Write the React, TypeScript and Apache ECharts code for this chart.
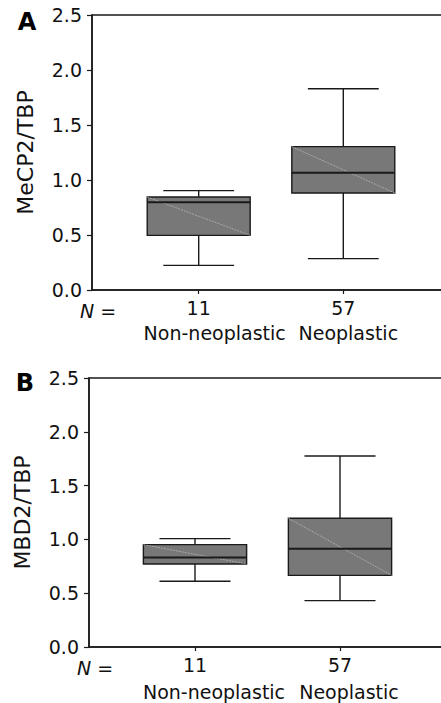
import React, { useEffect, useRef } from "react";
import * as echarts from "echarts";

// ---- data ----
const categories = ["Non-neoplastic", "Neoplastic"];
const nCounts = ["11", "57"];
const xPositions = [1, 2];
// [low whisker, Q1, median, Q3, high whisker]
const mecp2Stats = [
  [0.224, 0.497, 0.797, 0.845, 0.903],
  [0.285, 0.882, 1.066, 1.303, 1.83],
];
const mbd2Stats = [
  [0.611, 0.772, 0.831, 0.951, 1.007],
  [0.431, 0.666, 0.914, 1.196, 1.775],
];
const yMin = 0;
const yMax = 2.5;
const yInterval = 0.5;

const FONT = "DejaVu Sans";
const FS = 19;
const BOX_HALF = 0.356;
const CAP_HALF = 0.245;

function renderBox(params: any, api: any) {
  const x = api.value(0);
  const low = api.value(1);
  const q1 = api.value(2);
  const med = api.value(3);
  const q3 = api.value(4);
  const high = api.value(5);
  const pL = api.coord([x - BOX_HALF, q3]);
  const pR = api.coord([x + BOX_HALF, q1]);
  const pC = api.coord([x, high]);
  const pLow = api.coord([x, low]);
  const pQ1 = api.coord([x, q1]);
  const pQ3 = api.coord([x, q3]);
  const pMed = api.coord([x, med]);
  const capL = api.coord([x - CAP_HALF, high])[0];
  const capR = api.coord([x + CAP_HALF, high])[0];
  const lineStyle = { stroke: "#1a1a1a", lineWidth: 1.4 };
  return {
    type: "group",
    children: [
      { type: "line", shape: { x1: pC[0], y1: pC[1], x2: pQ3[0], y2: pQ3[1] }, style: lineStyle },
      { type: "line", shape: { x1: pQ1[0], y1: pQ1[1], x2: pLow[0], y2: pLow[1] }, style: lineStyle },
      { type: "line", shape: { x1: capL, y1: pC[1], x2: capR, y2: pC[1] }, style: lineStyle },
      { type: "line", shape: { x1: capL, y1: pLow[1], x2: capR, y2: pLow[1] }, style: lineStyle },
      {
        type: "rect",
        shape: { x: pL[0], y: pL[1], width: pR[0] - pL[0], height: pR[1] - pL[1] },
        style: { fill: "#787878", stroke: "#1a1a1a", lineWidth: 1.4 },
      },
      {
        type: "line",
        shape: { x1: pL[0], y1: pL[1], x2: pR[0], y2: pR[1] },
        style: { stroke: "#b4b4b4", lineWidth: 0.8, lineDash: [2, 1] },
      },
      {
        type: "line",
        shape: { x1: pL[0], y1: pMed[1], x2: pR[0], y2: pMed[1] },
        style: { stroke: "#1a1a1a", lineWidth: 2 },
      },
    ],
  };
}

function makeXAxis(gridIndex: number, min: number, max: number) {
  return {
    type: "value",
    gridIndex,
    min,
    max,
    axisLine: { show: true, onZero: false, lineStyle: { color: "#1a1a1a", width: 1.5 } },
    splitLine: { show: false },
    axisTick: { show: true, customValues: xPositions, length: 4, lineStyle: { color: "#1a1a1a", width: 1.2 } },
    axisLabel: {
      show: true,
      customValues: xPositions,
      showMinLabel: true,
      showMaxLabel: true,
      hideOverlap: false,
      margin: 8,
      fontFamily: FONT,
      fontSize: FS,
      color: "#111",
      formatter: (v: number) => nCounts[Math.round(v) - 1],
    },
  };
}

function makeYAxis(gridIndex: number, name: string) {
  return {
    type: "value",
    gridIndex,
    min: yMin,
    max: yMax,
    interval: yInterval,
    name,
    nameLocation: "middle",
    nameGap: 56,
    nameTextStyle: { fontFamily: FONT, fontSize: 22, color: "#111" },
    axisLine: { show: true, onZero: false, lineStyle: { color: "#1a1a1a", width: 1.5 } },
    splitLine: { show: false },
    axisTick: { show: true, length: 5, lineStyle: { color: "#1a1a1a", width: 1.2 } },
    axisLabel: {
      margin: 10,
      fontFamily: FONT,
      fontSize: FS,
      color: "#111",
      formatter: (v: number) => v.toFixed(1),
    },
  };
}

export default function App() {
  const ref = useRef<HTMLDivElement>(null);
  useEffect(() => {
    if (!ref.current) return;
    const chart = echarts.init(ref.current, null, { renderer: "svg" });
    const toData = (stats: number[][]) => stats.map((s, i) => [xPositions[i], ...s]);
    const wA = 370;
    const wB = 373;
    const aMin = 1 - 106.7 / 144.6;
    const aMax = aMin + wA / 144.6;
    const bMin = 1 - 106 / 145;
    const bMax = bMin + wB / 145;
    const gridBase = { outerBoundsMode: "none", containLabel: false, show: true, borderColor: "#1a1a1a", borderWidth: 1.5, backgroundColor: "transparent" };
    chart.setOption({
      animation: false,
      grid: [
        { ...gridBase, left: 92, top: 15, height: 275, width: wA },
        { ...gridBase, left: 89, top: 378, height: 269, width: wB },
      ],
      xAxis: [makeXAxis(0, aMin, aMax), makeXAxis(1, bMin, bMax)],
      yAxis: [makeYAxis(0, "MeCP2/TBP"), makeYAxis(1, "MBD2/TBP")],
      series: [
        {
          type: "custom",
          xAxisIndex: 0,
          yAxisIndex: 0,
          renderItem: renderBox,
          encode: { x: 0, y: [1, 2, 3, 4, 5] },
          data: toData(mecp2Stats),
        },
        {
          type: "custom",
          xAxisIndex: 1,
          yAxisIndex: 1,
          renderItem: renderBox,
          encode: { x: 0, y: [1, 2, 3, 4, 5] },
          data: toData(mbd2Stats),
        },
      ],
    });

    // category names below the N counts, placed from the axis scale
    const nameOffsets = [[16, 5], [19, 9]];
    const nameY = [333, 692];
    const nY = [311, 668];
    const nX = [80, 77];
    const graphics: any[] = [
      { type: "text", x: 27, y: 22, style: { text: "A", fontFamily: FONT, fontSize: 24, fontWeight: "bold", fill: "#000", align: "center", verticalAlign: "middle" } },
      { type: "text", x: 25, y: 383, style: { text: "B", fontFamily: FONT, fontSize: 24, fontWeight: "bold", fill: "#000", align: "center", verticalAlign: "middle" } },
      // white strips at the page's right edge (plot area continues beyond the page)
      { type: "rect", z: 100, shape: { x: 434, y: 17, width: 10, height: 272 }, style: { fill: "#fff" } },
      { type: "rect", z: 100, shape: { x: 434, y: 380, width: 10, height: 266 }, style: { fill: "#fff" } },
    ];
    [0, 1].forEach((g) => {
      graphics.push({
        type: "text", x: nX[g], y: nY[g],
        style: { text: "{i|N} =", fontFamily: FONT, fontSize: FS, fill: "#111", align: "left", verticalAlign: "middle", rich: { i: { fontFamily: FONT, fontSize: FS, fontStyle: "italic", fill: "#111" } } },
      });
      categories.forEach((c, i) => {
        const px = chart.convertToPixel({ xAxisIndex: g }, xPositions[i]) as number;
        graphics.push({
          type: "text", x: px + nameOffsets[g][i], y: nameY[g],
          style: { text: c, fontFamily: FONT, fontSize: FS, fill: "#111", align: "center", verticalAlign: "middle" },
        });
      });
    });
    chart.setOption({ graphic: graphics });
    return () => chart.dispose();
  }, []);
  return (
    <div style={{ position: "absolute", left: 0, top: 0, width: 441, height: 703, overflow: "hidden", background: "#fff" }}>
      <div ref={ref} style={{ width: 480, height: 703 }} />
    </div>
  );
}
